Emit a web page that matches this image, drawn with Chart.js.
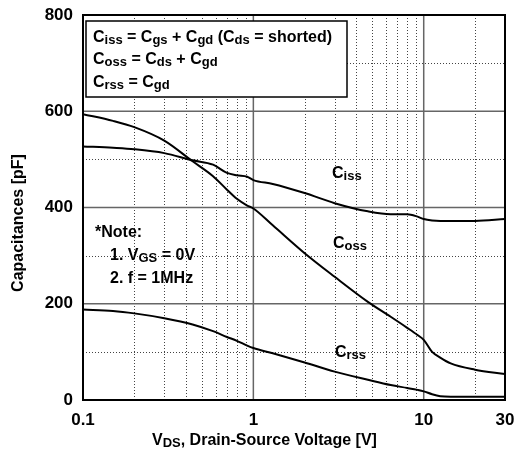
<!DOCTYPE html>
<html>
<head>
<meta charset="utf-8">
<script src="https://cdn.jsdelivr.net/npm/chart.js@4.4.1/dist/chart.umd.min.js"></script>
<style>
  body { margin: 0; background: #fff; }
  #wrap { width: 516px; height: 452px; }
</style>
</head>
<body>
<div id="wrap"><canvas id="chart" width="516" height="452"></canvas></div>
<script>
// Drain-source voltage [V] where the curves were read
const vds = [0.1, 0.15, 0.2, 0.3, 0.44, 0.58, 0.7, 0.8, 0.92, 1, 1.3, 2, 3, 4.7, 6.4, 8, 9.2, 10, 11.2, 12.5, 14.4, 20, 30];
// capacitances [pF]
const ciss = [527, 524, 521, 513, 498, 489, 472, 467, 464, 457, 449, 430, 409, 392, 386, 386, 381, 376, 373, 372, 372, 372, 376];
const coss = [594, 580, 567, 539, 496, 465, 437, 418, 404, 398, 363, 305, 256, 204, 173, 150, 135, 125, 100, 88, 76, 63, 54];
const crss = [188, 185, 180, 170, 157, 143, 131, 123, 113, 108, 97, 78, 59, 42, 31, 25, 21, 18, 12, 8, 7, 7, 7];

const xTickLabels = [0.1, 1, 10, 30];
const yTickLabels = [0, 200, 400, 600, 800];
// grid values
const xMajorGrid = [1, 10];
const xMinorGrid = [0.2, 0.3, 0.4, 0.5, 0.6, 0.7, 0.8, 0.9, 2, 3, 4, 5, 6, 7, 8, 9, 20];
const yMajorGrid = [200, 400, 600];
const yMinorGrid = [100, 300, 500, 700];

const FONT = "'Liberation Sans', Arial, sans-serif";

function pts(ys) {
  return vds.map((v, i) => ({ x: v, y: ys[i] }));
}

// draw text with [text, sub] parts
function rich(ctx, x, y, parts, size) {
  ctx.textBaseline = "alphabetic";
  ctx.textAlign = "left";
  parts.forEach(p => {
    const sub = p[1];
    ctx.font = "bold " + (sub ? Math.round(size * 0.8) : size) + "px " + FONT;
    ctx.fillText(p[0], x, sub ? y + 2 : y);
    x += ctx.measureText(p[0]).width;
  });
}

const decor = {
  id: "decor",
  beforeDatasetsDraw(chart) {
    const ctx = chart.ctx, a = chart.chartArea;
    const sx = chart.scales.x, sy = chart.scales.y;
    ctx.save();
    // minor dotted grid
    ctx.strokeStyle = "#444";
    ctx.lineWidth = 1;
    ctx.setLineDash([1, 2]);
    xMinorGrid.forEach(v => {
      const px = Math.round(sx.getPixelForValue(v)) + 0.5;
      ctx.beginPath(); ctx.moveTo(px, a.top); ctx.lineTo(px, a.bottom); ctx.stroke();
    });
    yMinorGrid.forEach(v => {
      const py = Math.round(sy.getPixelForValue(v)) + 0.5;
      ctx.beginPath(); ctx.moveTo(a.left, py); ctx.lineTo(a.right, py); ctx.stroke();
    });
    // major solid grid
    ctx.setLineDash([]);
    ctx.strokeStyle = "#666";
    ctx.lineWidth = 1.5;
    xMajorGrid.forEach(v => {
      const px = sx.getPixelForValue(v);
      ctx.beginPath(); ctx.moveTo(px, a.top); ctx.lineTo(px, a.bottom); ctx.stroke();
    });
    yMajorGrid.forEach(v => {
      const py = sy.getPixelForValue(v);
      ctx.beginPath(); ctx.moveTo(a.left, py); ctx.lineTo(a.right, py); ctx.stroke();
    });

    // formula box
    ctx.fillStyle = "#fff";
    ctx.fillRect(86, 21, 261, 76);
    ctx.strokeStyle = "#000";
    ctx.lineWidth = 1.5;
    ctx.strokeRect(86, 21, 261, 76);
    ctx.restore();
  },
  afterDatasetsDraw(chart) {
    const ctx = chart.ctx, a = chart.chartArea;
    ctx.save();
    ctx.strokeStyle = "#000";
    ctx.lineWidth = 2;
    ctx.strokeRect(a.left, a.top, a.right - a.left, a.bottom - a.top);

    ctx.fillStyle = "#000";
    rich(ctx, 93, 42, [["C"], ["iss", 1], [" = C"], ["gs", 1], [" + C"], ["gd", 1], [" (C"], ["ds", 1], [" = shorted)"]], 16);
    rich(ctx, 93, 64, [["C"], ["oss", 1], [" = C"], ["ds", 1], [" + C"], ["gd", 1]], 16);
    rich(ctx, 93, 87, [["C"], ["rss", 1], [" = C"], ["gd", 1]], 16);

    rich(ctx, 95, 237, [["*Note:"]], 16);
    rich(ctx, 110, 260, [["1. V"], ["GS", 1], [" = 0V"]], 16);
    rich(ctx, 110, 283, [["2. f = 1MHz"]], 16);

    rich(ctx, 332, 178, [["C"], ["iss", 1]], 16);
    rich(ctx, 333, 248, [["C"], ["oss", 1]], 16);
    rich(ctx, 335, 357, [["C"], ["rss", 1]], 16);

    // axis titles
    rich(ctx, 152, 445, [["V"], ["DS", 1], [", Drain-Source Voltage [V]"]], 16);
    ctx.translate(23, 223);
    ctx.rotate(-Math.PI / 2);
    ctx.font = "bold 16px " + FONT;
    ctx.textAlign = "center";
    ctx.textBaseline = "alphabetic";
    ctx.fillText("Capacitances [pF]", 0, 0);
    ctx.restore();
  }
};

const lineStyle = {
  borderColor: "#000",
  borderWidth: 2,
  pointRadius: 0,
  fill: false,
  cubicInterpolationMode: "monotone"
};

new Chart(document.getElementById("chart"), {
  type: "line",
  data: {
    datasets: [
      Object.assign({ label: "Ciss", data: pts(ciss) }, lineStyle),
      Object.assign({ label: "Coss", data: pts(coss) }, lineStyle),
      Object.assign({ label: "Crss", data: pts(crss) }, lineStyle)
    ]
  },
  options: {
    responsive: false,
    animation: false,
    events: [],
    layout: { padding: { left: 0, right: 11, top: 15, bottom: 0 } },
    plugins: { legend: { display: false }, tooltip: { enabled: false } },
    scales: {
      x: {
        type: "logarithmic",
        min: 0.1,
        max: 30,
        grid: { display: false, drawTicks: false },
        border: { display: false },
        afterBuildTicks: s => { s.ticks = xTickLabels.map(v => ({ value: v })); },
        afterFit: s => { s.height = 52; s.paddingLeft = 0; s.paddingRight = 0; },
        ticks: {
          autoSkip: false,
          maxRotation: 0,
          padding: 10,
          color: "#000",
          font: { family: FONT, size: 17, weight: "bold" },
          callback: v => String(v)
        }
      },
      y: {
        type: "linear",
        min: 0,
        max: 800,
        grid: { display: false, drawTicks: false },
        border: { display: false },
        afterBuildTicks: s => { s.ticks = yTickLabels.map(v => ({ value: v })); },
        afterFit: s => { s.width = 83; s.paddingTop = 0; s.paddingBottom = 0; },
        ticks: {
          padding: 10,
          color: "#000",
          font: { family: FONT, size: 17, weight: "bold" }
        }
      }
    }
  },
  plugins: [decor]
});
</script>
</body>
</html>
